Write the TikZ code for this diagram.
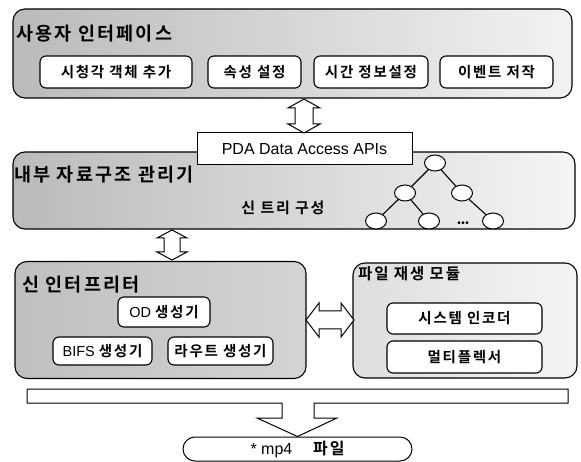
\documentclass[tikz,border=0pt]{standalone}
\usepackage{fontspec}
\setmainfont{Liberation Sans}
\newfontfamily\kr{Noto Sans CJK KR}[BoldFont={* Bold}, LetterSpace=12]
\newcommand\hg[1]{{\kr\bfseries #1}}
\usetikzlibrary{calc,shapes.geometric}

\begin{document}
\begin{tikzpicture}[x=1pt,y=-1pt,
  panel/.style={draw, line width=1.1pt, rounded corners=12pt, inner sep=0pt},
  item/.style={draw, line width=1.1pt, rounded corners=6pt, fill=white, inner sep=0pt,
    font=\fontsize{14.5}{14.5}\selectfont},
  paneltitle/.style={anchor=west, inner sep=0pt, font=\kr\bfseries\fontsize{18.5}{18.5}\selectfont},
  blockarrow/.style={draw, line width=1pt, fill=white, line join=miter},
  treenode/.style={draw, ellipse, line width=1pt, fill=white, inner sep=0pt,
    minimum width=21pt, minimum height=16pt},
  treeedge/.style={line width=1.1pt},
]
\useasboundingbox (0,0) rectangle (581,462);

% user interface layer
\node[panel, left color=black!27, right color=black!5, minimum width=559pt, minimum height=89pt]
  (ui) at (292.5,53.5) {};
\node[paneltitle] (uititle) at (16,34) {사용자 인터페이스};
\node[item, minimum width=152pt, minimum height=32pt] (av)    at (116,72)   {\hg{시청각 객체 추가}};
\node[item, minimum width=93pt,  minimum height=32pt] (attr)  at (254.5,72) {\hg{속성 설정}};
\node[item, minimum width=114pt, minimum height=32pt] (time)  at (371,72)   {\hg{시간 정보설정}};
\node[item, minimum width=113pt, minimum height=32pt] (event) at (496.5,72) {\hg{이벤트 저작}};

% internal data structure manager
\node[panel, left color=black!27, right color=black!4, minimum width=562pt, minimum height=77pt]
  (mid) at (294,190.5) {};
\node[paneltitle] (midtitle) at (14,175) {내부 자료구조 관리기};
\node[inner sep=0pt, font=\fontsize{15}{15}\selectfont] (scene) at (283,208) {\hg{신 트리 구성}};

% scene tree
\node[treenode] (t0) at (435,163) {};
\node[treenode] (t1) at (405,193) {};
\node[treenode] (t2) at (462,193) {};
\node[treenode] (t3) at (376,221) {};
\node[treenode] (t4) at (429,221) {};
\node[treenode] (t5) at (493,221) {};
\draw[treeedge] (t0) -- (t1);
\draw[treeedge] (t0) -- (t2);
\draw[treeedge] (t1) -- (t3);
\draw[treeedge] (t1) -- (t4);
\draw[treeedge] (t2) -- (t5);
\node[inner sep=0pt, font=\fontsize{10}{10}\selectfont] (dots) at (463,224) {•\kern0.5pt•\kern0.5pt•};

% API box on top of the manager
\node[draw, line width=1pt, fill=white, inner sep=0pt, minimum width=215pt, minimum height=32pt,
  font=\fontsize{16}{16}\selectfont] (pda) at (304.5,149) {PDA Data Access APIs};

% scene interpreter
\node[panel, left color=black!25, right color=black!17, minimum width=291pt, minimum height=117pt]
  (interp) at (160.5,320) {};
\node[paneltitle] (intitle) at (22,285) {신 인터프리터};
\node[item, minimum width=92pt,  minimum height=30pt] (od)    at (164,312)   {OD \hg{생성기}};
\node[item, minimum width=99pt,  minimum height=28pt] (bifs)  at (102.5,351) {BIFS \hg{생성기}};
\node[item, minimum width=105pt, minimum height=28pt] (route) at (220.5,351) {\hg{라우트 생성기}};

% file generation module
\node[panel, left color=black!13, right color=black!4, minimum width=224pt, minimum height=115pt]
  (play) at (465,320.5) {};
\node[paneltitle, font=\kr\bfseries\fontsize{15.5}{15.5}\selectfont] (pltitle) at (358,274) {파일 재생 모듈};
\node[item, minimum width=155pt, minimum height=31pt] (enc) at (464.5,318.5) {\hg{시스템 인코더}};
\node[item, minimum width=155pt, minimum height=32pt] (mux) at (464.5,357)   {\hg{멀티플렉서}};

% output file
\node[draw, line width=1pt, rounded corners=12pt, inner sep=0pt, minimum width=229pt, minimum height=24pt,
  font=\fontsize{16}{16}\selectfont] (mp4) at (297.5,449) {* mp4\hspace{1.3em}\hg{파일}};

% block arrows
\coordinate (a1t) at (304,99);
\coordinate (a1b) at (304,133);
\path[blockarrow] (a1t) -- ++(16,9) -- ++(-7,0) -- ++(0,16) -- ++(7,0) -- (a1b)
  -- ++(-16,-9) -- ++(7,0) -- ++(0,-16) -- ++(-7,0) -- cycle;

\coordinate (a2t) at (172,230);
\coordinate (a2b) at (172,260);
\path[blockarrow] (a2t) -- ++(15,8) -- ++(-7,0) -- ++(0,14) -- ++(7,0) -- (a2b)
  -- ++(-15,-8) -- ++(7,0) -- ++(0,-14) -- ++(-7,0) -- cycle;

\coordinate (h1) at (306,320);
\coordinate (h2) at (354,320);
\path[blockarrow] (h1) -- ++(13,-17) -- ++(0,8) -- ++(22,0) -- ++(0,-8) -- (h2)
  -- ++(-13,17) -- ++(0,-8) -- ++(-22,0) -- ++(0,8) -- cycle;

% collecting bar with arrow down to the output file
\path[blockarrow] (27,389) -- (568,389) -- (568,403) -- (314,403) -- (314,418) -- (337,418)
  -- (mp4.north) -- (257,418) -- (282,418) -- (282,403) -- (27,403) -- cycle;
\end{tikzpicture}
\end{document}
